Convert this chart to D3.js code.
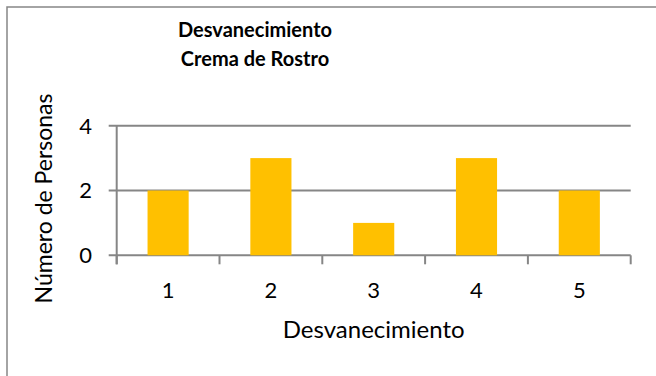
<!DOCTYPE html>
<html>
<head>
<meta charset="utf-8">
<script src="https://cdn.jsdelivr.net/npm/d3@7"></script>
<style>
  html, body { margin: 0; padding: 0; background: #fff; }
  svg { display: block; font-family: Lato, "Open Sans", sans-serif; }
</style>
</head>
<body>
<svg id="chart" width="656" height="376"></svg>
<script>
// Chart data
const categories = ["1", "2", "3", "4", "5"];
const personas = [2, 3, 1, 3, 2];
const yTicks = [0, 2, 4];
const titleLines = ["Desvanecimiento", "Crema de Rostro"];
const xTitle = "Desvanecimiento";
const yTitle = "Número de Personas";

const svg = d3.select("#chart");
const grey = "#868686";

// Plot area
const plot = { left: 116.7, right: 630.7, top: 125.7, bottom: 255.3 };

// Outer frame
svg.append("rect")
  .attr("x", 7).attr("y", 7)
  .attr("width", 660).attr("height", 380)
  .attr("fill", "none").attr("stroke", grey).attr("stroke-width", 1.5);

const x = d3.scaleBand()
  .domain(categories)
  .range([plot.left, plot.right])
  .paddingInner(0.6)
  .paddingOuter(0.3);

const y = d3.scaleLinear().domain([0, 4]).range([plot.bottom, plot.top]);

// Horizontal gridlines with left tick marks
svg.append("g")
  .selectAll("line")
  .data(yTicks)
  .join("line")
  .attr("x1", plot.left - 8)
  .attr("x2", plot.right)
  .attr("y1", d => y(d))
  .attr("y2", d => y(d))
  .attr("stroke", grey)
  .attr("stroke-width", 2);

// Vertical axis line
svg.append("line")
  .attr("x1", plot.left).attr("x2", plot.left)
  .attr("y1", plot.top).attr("y2", plot.bottom + 9)
  .attr("stroke", grey).attr("stroke-width", 2);

// Category boundary ticks below the baseline
const step = x.step();
const boundaries = d3.range(categories.length + 1).map(i => plot.left + i * step);
svg.append("g")
  .selectAll("line")
  .data(boundaries)
  .join("line")
  .attr("x1", d => d).attr("x2", d => d)
  .attr("y1", plot.bottom).attr("y2", plot.bottom + 9)
  .attr("stroke", grey).attr("stroke-width", 2);

// Bars
svg.append("g")
  .selectAll("rect")
  .data(personas)
  .join("rect")
  .attr("x", (d, i) => x(categories[i]))
  .attr("y", d => y(d))
  .attr("width", x.bandwidth())
  .attr("height", d => y(0) - y(d))
  .attr("fill", "#FFC000");

// Y tick labels
svg.append("g")
  .selectAll("text")
  .data(yTicks)
  .join("text")
  .attr("x", 92)
  .attr("y", d => y(d))
  .attr("dy", "0.36em")
  .attr("text-anchor", "end")
  .attr("font-size", 22)
  .attr("fill", "#000")
  .text(d => d);

// X tick labels
svg.append("g")
  .selectAll("text")
  .data(categories)
  .join("text")
  .attr("x", d => x(d) + x.bandwidth() / 2)
  .attr("y", 298)
  .attr("text-anchor", "middle")
  .attr("font-size", 22)
  .attr("fill", "#000")
  .text(d => d);

// Axis titles
svg.append("text")
  .attr("x", (plot.left + plot.right) / 2)
  .attr("y", 338)
  .attr("text-anchor", "middle")
  .attr("font-size", 24)
  .attr("fill", "#000")
  .text(xTitle);

svg.append("text")
  .attr("transform", `translate(52,${(plot.top + plot.bottom) / 2 + 8}) rotate(-90)`)
  .attr("text-anchor", "middle")
  .attr("font-size", 23)
  .attr("fill", "#000")
  .text(yTitle);

// Title
svg.append("g")
  .selectAll("text")
  .data(titleLines)
  .join("text")
  .attr("x", 255)
  .attr("y", (d, i) => 37 + i * 28.5)
  .attr("text-anchor", "middle")
  .attr("font-size", 20)
  .attr("font-weight", "bold")
  .attr("fill", "#000")
  .text(d => d);
</script>
</body>
</html>
